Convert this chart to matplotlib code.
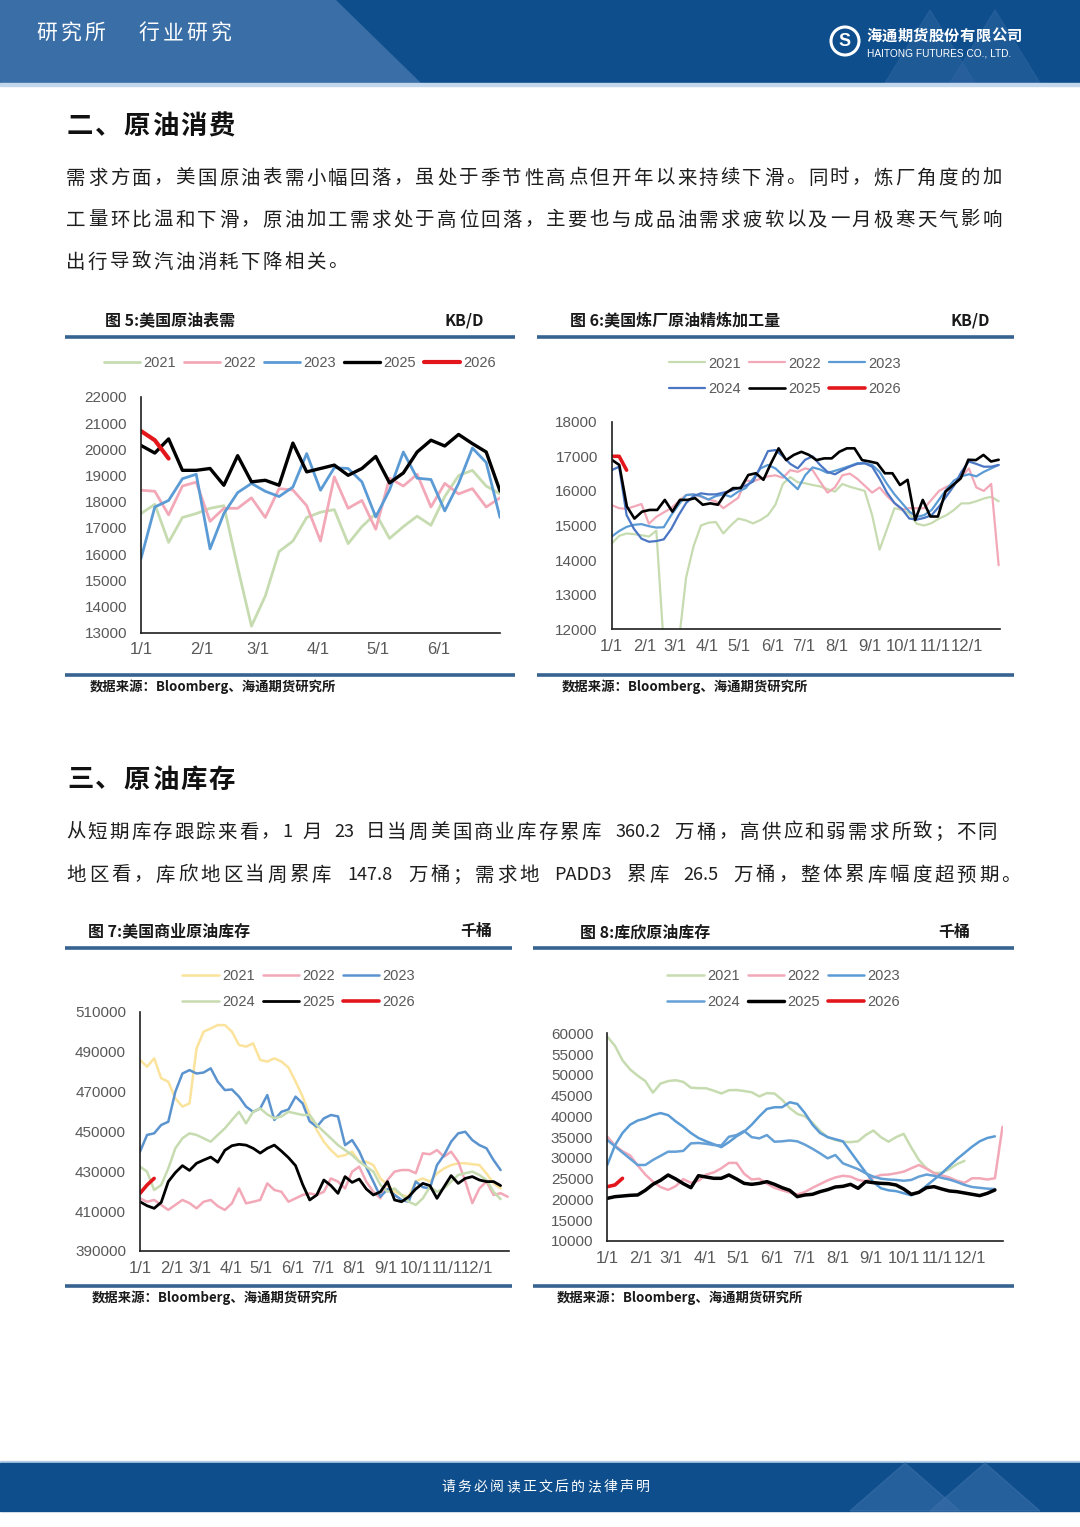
import numpy as np
import matplotlib
matplotlib.use('Agg')
import matplotlib.pyplot as plt
from matplotlib.patches import Rectangle, Polygon, Circle

CJK = ['Noto Sans CJK SC', 'DejaVu Sans']
LAT = ['Liberation Sans', 'DejaVu Sans']

# ---------------- data ----------------
years5 = ['2021', '2022', '2023', '2025', '2026']
years6 = ['2021', '2022', '2023', '2024', '2025', '2026']
month_days = [0, 31, 59, 90, 120, 151, 181, 212, 243, 273, 304, 334]
month_labels = ['1/1', '2/1', '3/1', '4/1', '5/1', '6/1', '7/1', '8/1', '9/1', '10/1', '11/1', '12/1']

# Fig 5: US crude apparent demand (KB/D), weekly, Jan-Jun
c5_2021 = [17550, 17900, 16450, 17400, 17550, 17750, 17850, 15500, 13250, 14400, 16100, 16500, 17400, 17600,
           17700, 16400, 17050, 17550, 16600, 17050, 17450, 17100, 18200, 19000, 19200, 18600, 18300]
c5_2022 = [18440, 18400, 17500, 18600, 18750, 17250, 17750, 17750, 18150, 17400, 18500, 18450, 17850, 16500,
           18950, 17750, 18050, 16950, 18900, 18600, 19050, 17800, 18700, 18300, 18500, 17800, 18150]
c5_2023 = [15830, 17800, 18050, 18880, 19050, 16200, 17550, 18350, 18700, 18400, 18200, 18560, 19840, 18440,
           19300, 19270, 18760, 17420, 18450, 19900, 18900, 18850, 17650, 18700, 20050, 19500, 17400]
c5_2025 = [20150, 19860, 20400, 19200, 19200, 19270, 18630, 19760, 18760, 18820, 18630, 20240, 19140, 19270,
           19400, 19010, 19270, 19730, 18720, 19100, 19900, 20350, 20130, 20570, 20220, 19900, 18410]
c5_2026 = [20700, 20350, 19650]

# Fig 6: US refinery crude runs (KB/D), weekly, full year
c6_2021 = [14480, 14700, 14770, 14750, 14720, 14680, 14850, 11500, 11200, 11600,
           13500, 14400, 15000, 15080, 15100, 14770, 15000, 15200, 15150, 15060,
           15160, 15300, 15600, 16200, 16400, 16250, 16220, 16170, 16130, 16050,
           15980, 16200, 16120, 16060, 16000, 15300, 14300, 14900, 15500, 15450,
           15350, 15050, 15000, 15070, 15200, 15300, 15450, 15640, 15640, 15700,
           15780, 15830, 15700]
c6_2022 = [15590, 15500, 15480, 15550, 15620, 15050, 15250, 15380, 15500, 15700,
           15880, 15900, 15830, 15750, 15700, 15500, 15650, 15800, 16300, 16280,
           16350, 16420, 16450, 16380, 16600, 16550, 16650, 16600, 16270, 15950,
           16100, 16450, 16500, 16350, 16150, 15950, 16100, 15850, 15650, 15450,
           15500, 15500, 15500, 15750, 16000, 16120, 16200, 16400, 16650, 16100,
           16000, 16200, 13850]
c6_2023 = [14680, 14840, 14960, 15020, 15040, 14980, 14940, 14950, 15300, 15600,
           15880, 15900, 15850, 15750, 15850, 15900, 15830, 15980, 16080, 16350,
           16650, 16750, 16650, 16450, 16250, 16050, 16450, 16680, 16620, 16520,
           16580, 16650, 16720, 16800, 16800, 16750, 16550, 16200, 15900, 15650,
           15400, 15250, 15300, 15450, 15750, 16050, 16300, 16420, 16480, 16420,
           16550, 16650, 16750]
c6_2024 = [16600, 16700, 15300, 14900, 14620, 14530, 14550, 14600, 14900, 15300,
           15650, 15850, 15930, 15900, 15900, 15950, 16000, 16080, 16150, 16270,
           16700, 17150, 17180, 17000, 16780, 16650, 16900, 17000, 16750, 16550,
           16480, 16600, 16700, 16780, 16800, 16700, 16350, 15950, 15650, 15480,
           15200, 15170, 15220, 15300, 15550, 15850, 16150, 16550, 16850, 16780,
           16700, 16700, 16750]
c6_2025 = [16900, 16750, 15550, 15200, 15400, 15450, 15450, 15740, 15400, 15740,
           15740, 15790, 15600, 15640, 15600, 15930, 16080, 16080, 16460, 16510,
           16320, 16800, 17230, 16890, 17040, 17130, 17040, 16890, 16940, 16940,
           17130, 17230, 17230, 16890, 16850, 16800, 16510, 16510, 16170, 16320,
           15160, 15740, 15260, 15260, 15980, 16170, 16360, 16900, 16890, 17040,
           16850, 16900]
c6_2026 = [17000, 17000, 16600]

# Fig 7: US commercial crude stocks (thousand bbl), weekly
c7_2021 = [485800, 482400, 486600, 476600, 474900, 466500, 462400, 464000, 491600, 500000,
           501600, 503300, 503300, 500000, 493300, 492500, 494100, 485800, 485000, 486600,
           485000, 482000, 475000, 467400, 458200, 450700, 444800, 440600, 437300, 438100,
           439800, 434800, 434800, 433100, 426400, 423100, 419700, 418100, 417200, 425000,
           426400, 424800, 428900, 431400, 433100, 434000, 434000, 433500, 433100, 428900,
           423900, 421400]
c7_2022 = [416400, 414700, 415600, 413100, 410600, 413100, 415600, 414000, 411400, 414700,
           415600, 412500, 410600, 413900, 421400, 413900, 414700, 415600, 423900, 420600,
           419700, 414700, 416400, 418100, 418900, 418100, 419700, 426400, 424800, 421400,
           429800, 432300, 424800, 419700, 416400, 425600, 429800, 430600, 430600, 429000,
           439000, 438500, 440600, 437300, 439800, 434800, 425000, 414000, 421400, 424800,
           418100, 419000, 417200]
c7_2023 = [439800, 448200, 449000, 453200, 454800, 469900, 479000, 480700, 479000, 479500,
           481600, 474900, 470700, 471000, 467400, 462400, 459800, 461500, 468200, 455700,
           459800, 461000, 467400, 464000, 455000, 452300, 456500, 458200, 457500, 443100,
           445600, 440000, 432000, 424800, 417200, 421000, 418100, 415600, 414700, 424800,
           422000, 421400, 433100, 438100, 444800, 449000, 449800, 445600, 443100, 441500,
           435600, 430600]
c7_2024 = [432300, 429800, 420600, 423100, 431400, 441500, 446500, 449000, 448200, 446500,
           444800, 448200, 451500, 455700, 459800, 454000, 459800, 461500, 458500, 456500,
           457500, 459800, 459000, 458200, 458200, 453200, 449800, 446500, 443100, 440600,
           438100, 434800, 432300, 429800, 423100, 419700, 421400, 418100, 414700, 413100,
           416400, 422200, 419700, 421400, 424800, 428100, 429000, 429800, 428100, 425600,
           419700, 416000]
c7_2025 = [414700, 412700, 411400, 414400, 424800, 429300, 432800, 430400, 434000, 435600,
           437100, 434500, 440500, 442800, 443500, 443100, 441500, 439100, 441500, 443100,
           440100, 436800, 432800, 423400, 415600, 418100, 425600, 422800, 418900, 427300,
           424400, 426100, 421100, 418100, 419700, 424800, 415600, 414700, 417200, 421100,
           423900, 422800, 416400, 422200, 427800, 423900, 426400, 427300, 425600, 424800,
           424800, 422800]
c7_2026 = [418900, 423100, 426400]

# Fig 8: Cushing crude stocks (thousand bbl), weekly
c8_2021 = [59200, 57000, 53500, 51300, 49800, 48500, 45700, 47900, 48500, 48700,
           48300, 46900, 46800, 46760, 46200, 45500, 46300, 46350, 46100, 45800,
           44800, 45600, 45500, 44000, 42000, 40600, 40000, 38500, 36500, 35000,
           34300, 33900, 33800, 34000, 35500, 36600, 35000, 33900, 35000, 35800,
           32500, 29500, 27500, 26400, 26400, 27300, 28500, 29300]
c8_2022 = [35100, 33000, 31600, 30600, 28200, 26000, 24300, 23000, 22300, 23200,
           24900, 24000, 24500, 26000, 26500, 27500, 28800, 28800, 26200, 24800,
           25000, 23800, 22800, 22200, 21700, 21200, 21800, 22800, 23700, 24600,
           25300, 25700, 25500, 24700, 24400, 25300, 25900, 26000, 26300, 26700,
           27500, 28300, 27400, 26300, 25800, 25300, 24500, 24000, 25100, 25100,
           24800, 25100, 37500]
c8_2023 = [28300, 33000, 36000, 38000, 39000, 39500, 40300, 40800, 40300, 38800,
           37500, 36000, 34800, 34000, 33300, 32600, 33800, 35200, 36300, 38000,
           40000, 41800, 42200, 42200, 43400, 43000, 40800, 38000, 36000, 35000,
           34500, 34000, 31500, 29000, 26500, 24200, 22700, 22200, 22000, 21500,
           21000, 21800, 23300, 24800, 26300, 28000, 29700, 31200, 32700, 34000,
           34800, 35200]
c8_2024 = [34300, 32800, 31300, 29800, 28300, 28300, 29500, 30500, 31500, 31500,
           31700, 33500, 33600, 33400, 33100, 33000, 35100, 35500, 36500, 35000,
           34700, 35500, 33900, 34000, 34200, 34000, 33200, 32200, 31100, 29900,
           30700, 28700, 28000, 27300, 26300, 25500, 25000, 24800, 24700, 24500,
           24700, 25500, 26000, 25700, 25200, 24800, 24200, 23500, 23000, 22800,
           22600, 22500]
c8_2025 = [20270, 20670, 20830, 21000, 21080, 22200, 23640, 24610, 25890, 24930,
           23800, 22840, 25730, 25410, 25090, 25090, 25890, 24930, 23880, 23640,
           23880, 24290, 23640, 22840, 22200, 20670, 21080, 21240, 21880, 22360,
           23000, 23160, 23640, 22680, 24290, 24050, 23880, 23800, 23480, 22520,
           21240, 21720, 22840, 23080, 22520, 22040, 21880, 21560, 21240, 20920,
           21480, 22280]
c8_2026 = [23080, 23480, 25090]

# ---------------- page ----------------
W, H = 1080, 1527
fig = plt.figure(figsize=(W / 100, H / 100), dpi=100)
fig.patch.set_facecolor('white')
bg = fig.add_axes([0, 0, 1, 1])
bg.set_xlim(0, W)
bg.set_ylim(H, 0)
bg.axis('off')


def ax_rect(l, t, r, b):
    return [l / W, 1 - b / H, (r - l) / W, (b - t) / H]


def cw(ch):
    if ord(ch) >= 128:
        return 1.0
    if ch == ' ':
        return 0.4
    if ch == '.':
        return 0.3
    if ch.isupper():
        return 0.62
    return 0.55


def chars(s, x0, y, pitch, size, color='#1a1a1a', weight='normal'):
    """Place full-width characters one per cell; ASCII runs as one text in their span."""
    x = x0
    i = 0
    while i < len(s):
        ch = s[i]
        if ord(ch) >= 128:
            bg.text(x + pitch / 2, y, ch, ha='center', va='center', fontsize=size, color=color,
                    fontweight=weight, family=CJK)
            x += pitch
            i += 1
        else:
            j = i
            while j < len(s) and ord(s[j]) < 128:
                j += 1
            run = s[i:j]
            w = sum(cw(c) for c in run) * pitch
            if run.strip():
                lead = sum(cw(c) for c in run[:len(run) - len(run.lstrip())]) * pitch
                trail = sum(cw(c) for c in run[len(run.rstrip()):]) * pitch
                cx = x + lead + (w - lead - trail) / 2
                bg.text(cx, y, run.strip(), ha='center', va='center', fontsize=size * 0.93, color=color,
                        fontweight=weight, family=CJK)
            x += w
            i = j


def units(s):
    return sum(cw(c) for c in s)


# header
DARK = '#0e4e8c'
bg.add_patch(Rectangle((0, 0), W, 83, color=DARK, zorder=1))
bg.add_patch(Polygon([(0, 0), (335, 0), (420, 83), (0, 83)], closed=True, color='#3a6ea6', zorder=2))
for cx in (930, 995):
    bg.add_patch(Polygon([(cx - 45, 83), (cx, 10), (cx + 45, 83)], closed=True, color='#2d64a0',
                         alpha=0.55, zorder=2))
bg.add_patch(Rectangle((0, 83), W, 3, color='#c2d7ec', zorder=2))
chars('研究所', 35, 33, 24, 15, color='white')
chars('行业研究', 137, 33, 24, 15, color='white')
bg.add_patch(Circle((845, 41), 14, fill=False, ec='white', lw=2.2, zorder=3))
bg.text(845, 41, 'S', ha='center', va='center', fontsize=13, fontweight='bold', color='white',
        family=LAT, zorder=4)
chars('海通期货股份有限公司', 866, 36, 15.6, 11, color='white', weight='bold')
bg.text(867, 53, 'HAITONG FUTURES CO., LTD.', ha='left', va='center', fontsize=7.3, color='white',
        family=LAT)

# footer
bg.add_patch(Rectangle((0, 1461), W, 2, color='#b5cde6', zorder=1))
bg.add_patch(Rectangle((0, 1463), W, 48, color=DARK, zorder=1))
for cx in (905, 985):
    bg.add_patch(Polygon([(cx - 55, 1511), (cx, 1463), (cx + 55, 1511)], closed=True, color='#3b70aa',
                         alpha=0.55, zorder=2))
chars('请务必阅读正文后的法律声明', 440, 1487, 16.2, 10, color='white')

# headings and paragraphs
chars('二、原油消费', 66, 127, 28.3, 19, color='#111111', weight='bold')
chars('三、原油库存', 66, 780, 28.3, 19, color='#111111', weight='bold')

para = [
    ('需求方面，美国原油表需小幅回落，虽处于季节性高点但开年以来持续下滑。同时，炼厂角度的加', 178, 1003),
    ('工量环比温和下滑，原油加工需求处于高位回落，主要也与成品油需求疲软以及一月极寒天气影响', 220, 1003),
    ('出行导致汽油消耗下降相关。', 262, None),
    ('从短期库存跟踪来看，1 月 23 日当周美国商业库存累库 360.2 万桶，高供应和弱需求所致；不同', 832, 998),
    ('地区看，库欣地区当周累库 147.8 万桶；需求地 PADD3 累库 26.5 万桶，整体累库幅度超预期。', 875, 1022),
]
for s, y, xr in para:
    p = 21.8 if xr is None else (xr - 65) / units(s)
    chars(s, 65, y, p, 14, color='#1e1e1e')

# ---------------- chart frames ----------------
FRAME = '#36638f'
frames = [
    ('图 5:美国原油表需', 'KB/D', 105, 444, 320, 65, 515, 336.5, 675, 90, 687),
    ('图 6:美国炼厂原油精炼加工量', 'KB/D', 570, 950, 320, 537, 1014, 336.5, 675, 562, 687),
    ('图 7:美国商业原油库存', '千桶', 88, 460, 931, 65, 512, 947.5, 1285.5, 92, 1298),
    ('图 8:库欣原油库存', '千桶', 580, 938, 932, 533, 1014, 948, 1286, 557, 1298),
]
for title, unit, tx, ux, ty, x0, x1, ly, by, sx, sy in frames:
    bg.text(tx, ty, title, ha='left', va='center', fontsize=11.5, fontweight='bold', color='#1a1a1a',
            family=CJK)
    bg.text(ux, ty, unit, ha='left', va='center', fontsize=11.5, fontweight='bold', color='#1a1a1a',
            family=CJK)
    bg.plot([x0, x1], [ly, ly], color=FRAME, lw=2.6, solid_capstyle='butt')
    bg.plot([x0, x1], [by, by], color=FRAME, lw=2.6, solid_capstyle='butt')
    bg.text(sx, sy, '数据来源：Bloomberg、海通期货研究所', ha='left', va='center', fontsize=9.6,
            fontweight='bold', color='#1a1a1a', family=CJK)

# ---------------- charts ----------------
GREEN = '#c6dcb0'
PINK = '#f3a8b8'
BLUE = '#5b9bd5'
DBLUE = '#4a76c4'
YELLOW = '#fbe39c'
BLACK = '#000000'
RED = '#e3161c'


def setup_ax(rect, xmax, ylim, yticks, nmonths):
    ax = fig.add_axes(rect)
    ax.patch.set_alpha(0)
    ax.set_xlim(0, xmax)
    ax.set_ylim(*ylim)
    for s in ['top', 'right']:
        ax.spines[s].set_visible(False)
    for s in ['left', 'bottom']:
        ax.spines[s].set_color('#1f1f1f')
        ax.spines[s].set_linewidth(1.2)
    ax.set_yticks(yticks)
    ax.set_yticklabels([str(v) for v in yticks])
    ax.set_xticks(month_days[:nmonths])
    ax.set_xticklabels(month_labels[:nmonths])
    ax.tick_params(length=0, labelcolor='#595959')
    ax.tick_params(axis='y', pad=10, labelsize=11)
    ax.tick_params(axis='x', pad=7, labelsize=12)
    for lab in ax.get_xticklabels() + ax.get_yticklabels():
        lab.set_family(LAT)
    return ax


def weekly(vals):
    return np.arange(len(vals)) * 7


def yearly(vals, end=364):
    return np.linspace(0, end, len(vals))


def draw(ax, series):
    for lab, x, v, c, lw in series:
        ax.plot(x, v, color=c, lw=lw, label=lab, solid_joinstyle='round', solid_capstyle='round')


def add_legend(ax, cx, cy, ncol, rowmajor=True):
    h, l = ax.get_legend_handles_labels()
    if ncol == 3 and rowmajor:
        order = [0, 3, 1, 4, 2, 5]
        h = [h[i] for i in order]
        l = [l[i] for i in order]
    fig.legend(h, l, loc='center', bbox_to_anchor=(cx / W, 1 - cy / H), ncol=ncol, frameon=False,
               prop={'family': LAT, 'size': 10.5}, labelcolor='#595959', handlelength=2.5,
               handletextpad=0.2, columnspacing=0.55, labelspacing=0.82, borderpad=0, borderaxespad=0)


# Fig 5
ax5 = setup_ax(ax_rect(141, 397, 500, 632.7), 182, (13000, 22000), list(range(13000, 22001, 1000)), 6)
draw(ax5, [
    (years5[0], weekly(c5_2021), c5_2021, GREEN, 2.0),
    (years5[1], weekly(c5_2022), c5_2022, PINK, 2.0),
    (years5[2], weekly(c5_2023), c5_2023, BLUE, 2.0),
    (years5[3], weekly(c5_2025), c5_2025, BLACK, 2.4),
    (years5[4], weekly(c5_2026), c5_2026, RED, 3.0),
])
add_legend(ax5, 300, 363, 5)

# Fig 6
ax6 = setup_ax(ax_rect(611.7, 421.7, 999.7, 629.3), 365, (12000, 18000), list(range(12000, 18001, 1000)), 12)
draw(ax6, [
    (years6[0], yearly(c6_2021), c6_2021, GREEN, 1.6),
    (years6[1], yearly(c6_2022), c6_2022, PINK, 1.6),
    (years6[2], yearly(c6_2023), c6_2023, BLUE, 1.6),
    (years6[3], yearly(c6_2024), c6_2024, DBLUE, 1.6),
    (years6[4], yearly(c6_2025), c6_2025, BLACK, 1.9),
    (years6[5], weekly(c6_2026), c6_2026, RED, 2.6),
])
add_legend(ax6, 785, 376.5, 3)

# Fig 7
ax7 = setup_ax(ax_rect(140, 1011.7, 508.7, 1251), 365, (390000, 510000), list(range(390000, 510001, 20000)), 12)
draw(ax7, [
    (years6[0], weekly(c7_2021), c7_2021, YELLOW, 1.8),
    (years6[1], weekly(c7_2022), c7_2022, PINK, 1.8),
    (years6[2], weekly(c7_2023), c7_2023, '#5b93cf', 1.8),
    (years6[3], weekly(c7_2024), c7_2024, GREEN, 1.8),
    (years6[4], weekly(c7_2025), c7_2025, BLACK, 2.0),
    (years6[5], weekly(c7_2026), c7_2026, RED, 2.6),
])
add_legend(ax7, 298.5, 988.8, 3)

# Fig 8
ax8 = setup_ax(ax_rect(607.3, 1033.3, 1002.5, 1241), 364, (10000, 60000), list(range(10000, 60001, 5000)), 12)
draw(ax8, [
    (years6[0], weekly(c8_2021), c8_2021, GREEN, 1.8),
    (years6[1], weekly(c8_2022), c8_2022, PINK, 1.8),
    (years6[2], weekly(c8_2023), c8_2023, BLUE, 1.8),
    (years6[3], weekly(c8_2024), c8_2024, '#64a0d6', 1.8),
    (years6[4], weekly(c8_2025), c8_2025, BLACK, 2.5),
    (years6[5], weekly(c8_2026), c8_2026, RED, 2.6),
])
add_legend(ax8, 783.5, 988.8, 3)

fig.savefig('out.png', dpi=100, facecolor='white')
